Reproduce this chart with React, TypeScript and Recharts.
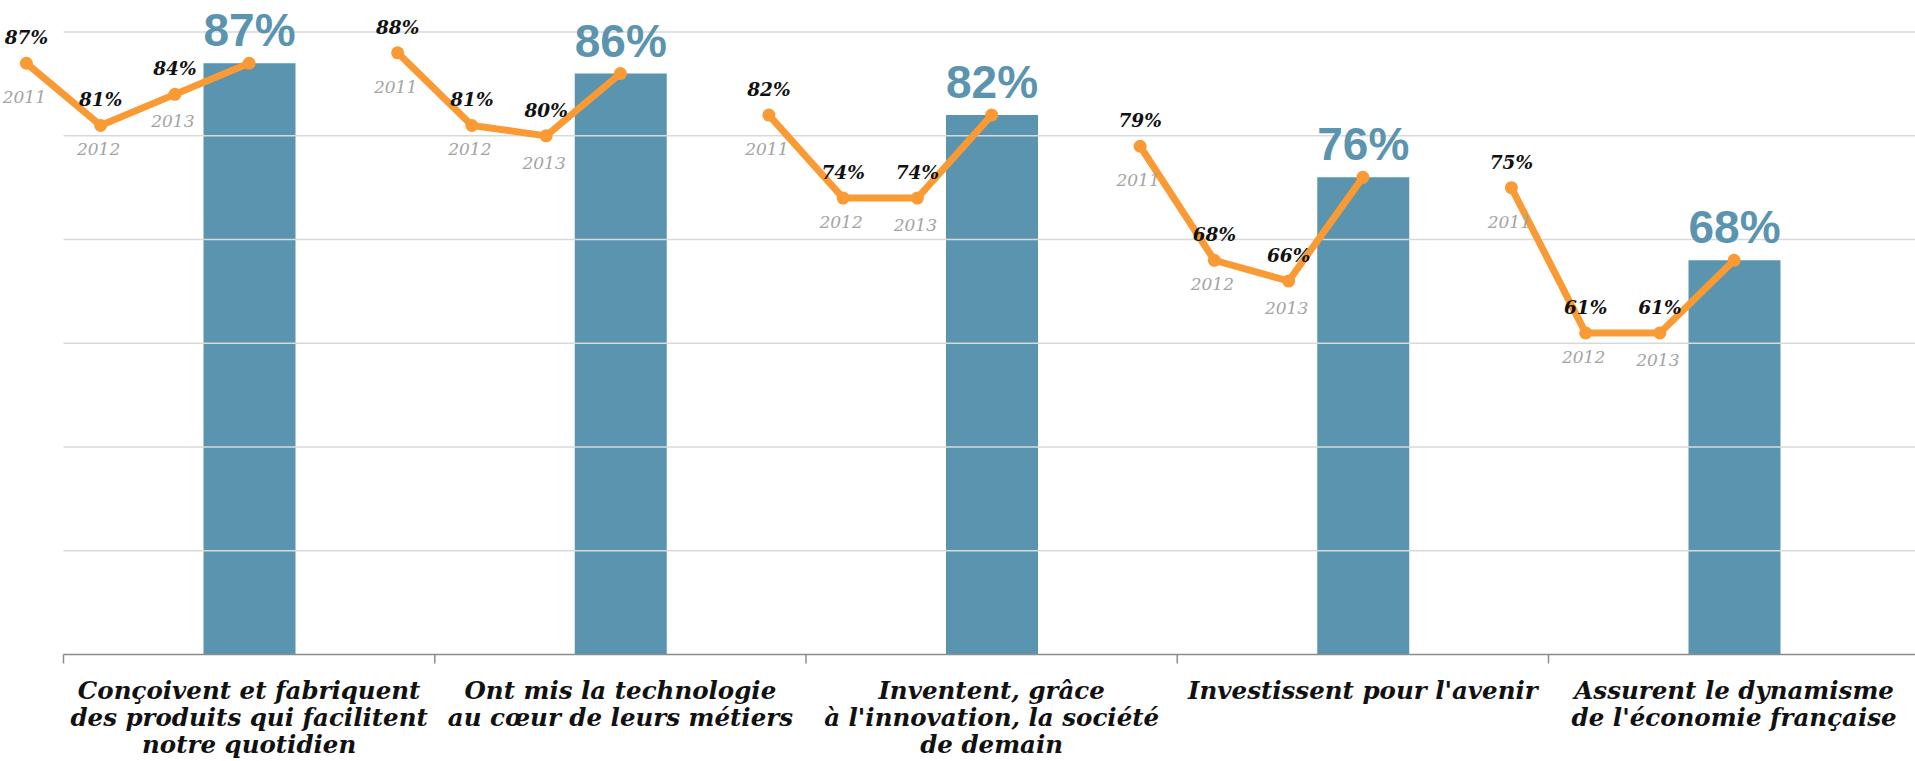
import React from "react";
import {
  ComposedChart,
  Bar,
  Line,
  XAxis,
  YAxis,
  LabelList,
  ReferenceLine,
} from "recharts";

// category labels, one entry per line of text
const categories = [
  ["Conçoivent et fabriquent", "des produits qui facilitent", "notre quotidien"],
  ["Ont mis la technologie", "au cœur de leurs métiers"],
  ["Inventent, grâce", "à l'innovation, la société", "de demain"],
  ["Investissent pour l'avenir"],
  ["Assurent le dynamisme", "de l'économie française"],
];

const years = ["2011", "2012", "2013"];
const score2011 = [87, 88, 82, 79, 75];
const score2012 = [81, 81, 74, 68, 61];
const score2013 = [84, 80, 74, 66, 61];
const score2014 = [87, 86, 82, 76, 68];

const gridTicks = [40, 50, 60, 70, 80, 90];

const BAR_COLOR = "#5b94ae";
const LINE_COLOR = "#fa9a35";
const WIDTH = 1915;
const HEIGHT = 761;

// each category takes 5 units on the x axis, the bar sits in the middle
const SLOT = 5;
const X_MAX = 24.936;
const categoryTicks = categories.map((_, i) => i * SLOT);
const centerTicks = categories.map((_, i) => i * SLOT + SLOT / 2);

const barData = score2014.map((v, i) => ({ pos: i * SLOT + SLOT / 2, value: v }));

const history = [score2011, score2012, score2013];
const trendGroups = score2014.map((last, i) => {
  const c = i * SLOT + SLOT / 2;
  const rows = history.map((serie, k) => ({
    pos: c - (3 - k),
    pct: serie[i],
    valueLabel: serie[i],
    year: years[k],
  }));
  rows.push({ pos: c, pct: last, valueLabel: null as any, year: null as any });
  return rows;
});

const yearOffset: Record<string, number> = { "2011": 40, "2012": 30, "2013": 33 };

function EmptyTick() {
  return <g />;
}

function CategoryTick(props: any) {
  const { x, y, payload } = props;
  const lines = categories[Math.round((payload.value - SLOT / 2) / SLOT)] || [];
  return (
    <text
      x={x}
      y={y + 26}
      textAnchor="middle"
      fontFamily="DejaVu Serif"
      fontWeight="bold"
      fontStyle="italic"
      fontSize={24.5}
      fill="#111"
    >
      {lines.map((t, k) => (
        <tspan key={k} x={x} dy={k === 0 ? 0 : 27}>
          {t}
        </tspan>
      ))}
    </text>
  );
}

function BarValueLabel(props: any) {
  const { x, y, width, value } = props;
  if (value == null) return null;
  return (
    <text
      x={x + width / 2}
      y={y - 17}
      textAnchor="middle"
      fontFamily="Liberation Sans"
      fontWeight="bold"
      fontSize={46}
      fill={BAR_COLOR}
    >
      {value}%
    </text>
  );
}

function PointValueLabel(props: any) {
  const { x, y, value } = props;
  if (value == null) return null;
  return (
    <text
      x={x}
      y={y - 19}
      textAnchor="middle"
      fontFamily="DejaVu Serif"
      fontWeight="bold"
      fontStyle="italic"
      fontSize={18.5}
      fill="#111"
    >
      {value}%
    </text>
  );
}

function YearLabel(props: any) {
  const { x, y, value } = props;
  if (value == null) return null;
  return (
    <text
      x={x - 2}
      y={y + (yearOffset[value] ?? 32)}
      textAnchor="middle"
      fontFamily="DejaVu Serif"
      fontStyle="italic"
      fontSize={17}
      fill="#a3a3a3"
    >
      {value}
    </text>
  );
}

export default function App() {
  return (
    <div style={{ width: WIDTH, height: HEIGHT, background: "#fff", fontFamily: "DejaVu Serif" }}>
      <style>{"body{margin:0;overflow:hidden}"}</style>
      <ComposedChart
        width={WIDTH}
        height={HEIGHT}
        data={barData}
        margin={{ top: 1, right: 0, bottom: 0, left: 63.5 }}
      >
        <XAxis
          xAxisId="bars"
          type="number"
          dataKey="pos"
          domain={[0, X_MAX]}
          ticks={categoryTicks}
          interval={0}
          tick={<EmptyTick />}
          tickSize={9}
          tickLine={{ stroke: "#8c8c8c", strokeWidth: 1.5 }}
          axisLine={{ stroke: "#8c8c8c", strokeWidth: 1.5 }}
          height={10}
        />
        <XAxis
          xAxisId="labels"
          type="number"
          dataKey="pos"
          domain={[0, X_MAX]}
          ticks={centerTicks}
          interval={0}
          tick={<CategoryTick />}
          tickLine={false}
          axisLine={false}
          height={96.5}
        />
        <XAxis
          xAxisId="trend"
          type="number"
          dataKey="pos"
          domain={[-0.5, X_MAX]}
          padding={{ left: -37.125, right: 0 }}
          hide
        />
        <YAxis type="number" domain={[30, 93]} ticks={gridTicks} hide />
        {gridTicks.map((v) => (
          <ReferenceLine
            key={v}
            xAxisId="bars"
            y={v}
            stroke="#d9d9d9"
            strokeWidth={1.5}
          />
        ))}
        <Bar
          xAxisId="bars"
          dataKey="value"
          fill={BAR_COLOR}
          barSize={92}
          isAnimationActive={false}
        >
          <LabelList dataKey="value" content={<BarValueLabel />} />
        </Bar>
        {trendGroups.map((rows, i) => (
          <Line
            key={i}
            xAxisId="trend"
            data={rows}
            dataKey="pct"
            type="linear"
            stroke={LINE_COLOR}
            strokeWidth={7}
            dot={{ r: 6.5, fill: LINE_COLOR, stroke: LINE_COLOR, strokeWidth: 0 }}
            activeDot={false}
            isAnimationActive={false}
          >
            <LabelList dataKey="valueLabel" content={<PointValueLabel />} />
            <LabelList dataKey="year" content={<YearLabel />} />
          </Line>
        ))}
      </ComposedChart>
    </div>
  );
}
